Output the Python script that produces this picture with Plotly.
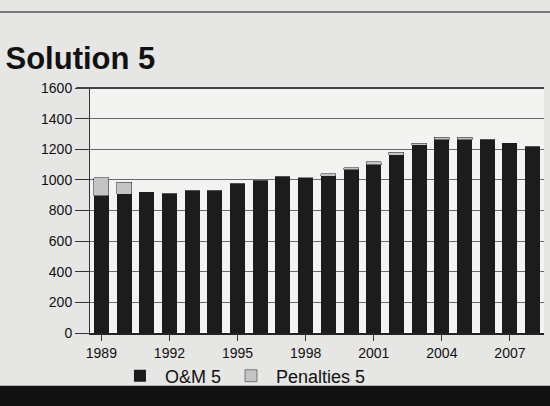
import plotly.graph_objects as go

years = [str(y) for y in range(1989, 2009)]
om = [895, 905, 920, 910, 930, 930, 975, 995, 1020, 1010,
      1025, 1065, 1100, 1160, 1225, 1262, 1262, 1262, 1240, 1215]
penalties = [120, 80, 0, 0, 0, 0, 0, 0, 0, 5,
             15, 15, 20, 20, 15, 18, 15, 0, 0, 0]
tick_years = [str(y) for y in range(1989, 2009, 3)]
y_ticks = list(range(0, 1601, 200))

FONT = "Liberation Sans, Arial, sans-serif"

fig = go.Figure()
fig.add_trace(go.Bar(x=years, y=om, name="O&M 5", marker=dict(color="#1c1c1c", line_width=0)))
fig.add_trace(go.Bar(x=years, y=penalties, name="Penalties 5",
                     marker=dict(color="#c4c4c4", line=dict(color="#1c1c1c", width=0.5))))

fig.update_layout(
    barmode="stack",
    bargap=0.34,
    width=550, height=406,
    paper_bgcolor="#e6e6e4",
    plot_bgcolor="#f3f3f1",
    margin=dict(l=90, r=6, t=88, b=73),
    font=dict(family=FONT, color="#111111", size=13),
    title=dict(text="<b>Solution 5</b>", font=dict(size=31, color="#111111"),
               x=0.01, xanchor="left", y=0.857, yanchor="middle"),
    legend=dict(orientation="h", x=0.055, xanchor="left", y=-0.1, yanchor="top",
                font=dict(size=18), bgcolor="rgba(0,0,0,0)", traceorder="normal",
                itemwidth=40),
    xaxis=dict(type="category", tickvals=tick_years, ticktext=tick_years,
               tickfont=dict(size=14), showline=True, linecolor="#222", linewidth=2,
               ticks="outside", ticklen=6, tickcolor="#333"),
    yaxis=dict(range=[0, 1600], tickvals=y_ticks, tickfont=dict(size=14),
               showgrid=True, gridcolor="#6a6a6a", gridwidth=1,
               showline=True, linecolor="#333", linewidth=1,
               ticks="outside", ticklen=14, tickcolor="#333"),
    shapes=[
        dict(type="rect", xref="paper", yref="paper", x0=-0.2, x1=1.02, y0=-0.35, y1=-0.215,
             fillcolor="#111111", line_width=0, layer="below"),
        dict(type="line", xref="paper", yref="paper", x0=-0.03, x1=1.0, y0=1.0, y1=1.0,
             line=dict(color="#444", width=2)),
        dict(type="line", xref="paper", yref="paper", x0=-0.2, x1=1.02, y0=1.31, y1=1.31,
             line=dict(color="#777", width=2)),
    ],
)

fig.write_html("out.html", config={"displayModeBar": False},
               post_script="document.body.style.margin='0';")
